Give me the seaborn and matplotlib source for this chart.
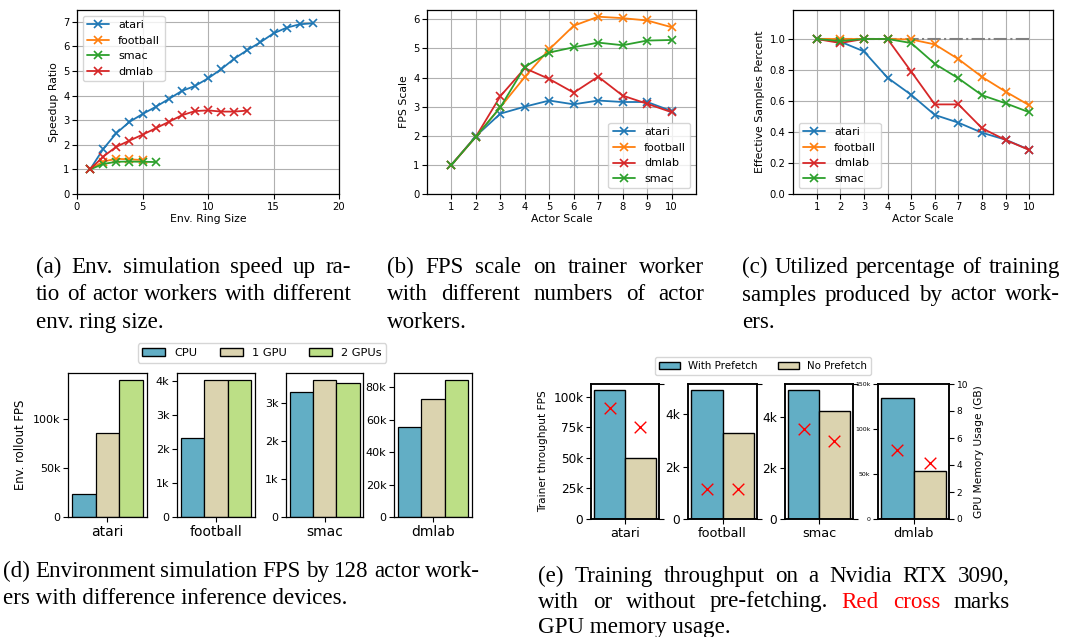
import matplotlib

matplotlib.use("Agg")
import matplotlib.pyplot as plt
import pandas as pd
import seaborn as sns
from matplotlib.patches import Patch
from matplotlib.ticker import FuncFormatter, MultipleLocator
from matplotlib.transforms import IdentityTransform

W, H = 1065, 637

# (a) speedup vs env ring size
ring_atari = [1, 2, 3, 4, 5, 6, 7, 8, 9, 10, 11, 12, 13, 14, 15, 16, 17, 18]
speedup_atari = [1.0, 1.83, 2.47, 2.93, 3.25, 3.54, 3.86, 4.19, 4.39, 4.70,
                 5.07, 5.50, 5.85, 6.17, 6.53, 6.76, 6.90, 6.94]
ring_football = [1, 2, 3, 4, 5]
speedup_football = [1.0, 1.32, 1.43, 1.41, 1.38]
ring_smac = [1, 2, 3, 4, 5, 6]
speedup_smac = [1.0, 1.22, 1.31, 1.32, 1.31, 1.30]
ring_dmlab = [1, 2, 3, 4, 5, 6, 7, 8, 9, 10, 11, 12, 13]
speedup_dmlab = [1.0, 1.52, 1.92, 2.17, 2.41, 2.67, 2.93, 3.20, 3.37, 3.40,
                 3.35, 3.35, 3.39]

# (b) fps scale / (c) effective samples vs actor scale
actor_scale = [1, 2, 3, 4, 5, 6, 7, 8, 9, 10]
fps_atari = [1.0, 1.99, 2.76, 3.00, 3.21, 3.08, 3.21, 3.16, 3.16, 2.85]
fps_football = [1.0, 1.97, 2.98, 4.02, 4.97, 5.78, 6.09, 6.04, 5.96, 5.73]
fps_dmlab = [1.0, 1.97, 3.36, 4.32, 3.95, 3.48, 4.03, 3.38, 3.10, 2.81]
fps_smac = [1.0, 1.97, 2.98, 4.37, 4.86, 5.04, 5.20, 5.11, 5.27, 5.29]

eff_atari = [1.0, 0.983, 0.92, 0.75, 0.64, 0.51, 0.46, 0.395, 0.35, 0.285]
eff_football = [1.0, 1.0, 1.0, 1.0, 0.997, 0.965, 0.87, 0.755, 0.66, 0.572]
eff_dmlab = [1.0, 0.974, 1.0, 1.0, 0.79, 0.578, 0.578, 0.424, 0.348, 0.284]
eff_smac = [1.0, 0.987, 1.0, 1.0, 0.974, 0.84, 0.746, 0.637, 0.585, 0.527]
eff_ideal = [1.0, 1.0, 1.0, 1.0, 1.0, 1.0, 1.0, 1.0, 1.0, 1.0]

# (d) env simulation fps by inference device
envs = ["atari", "football", "smac", "dmlab"]
devices = ["CPU", "1 GPU", "2 GPUs"]
sim_cpu = [23800, 2340, 3270, 55700]
sim_1gpu = [85000, 4040, 3600, 72400]
sim_2gpu = [139500, 4040, 3530, 84500]

# (e) trainer throughput with / without prefetch, GPU memory (GB)
modes = ["With Prefetch", "No Prefetch"]
thr_with = [105000, 4910, 5060, 134000]
thr_no = [50000, 3280, 4240, 53000]
mem_with = [8.2, 2.2, 6.7, 5.1]
mem_no = [6.85, 2.2, 5.75, 4.15]

env_colors = {"atari": "#1f77b4", "football": "#ff7f0e", "smac": "#2ca02c", "dmlab": "#d62728"}
bar_colors = ["#62aec5", "#dbd3af", "#bcdf86"]

sns.set_style("ticks", {"axes.edgecolor": "black", "xtick.color": "black",
                        "ytick.color": "black", "axes.labelcolor": "black",
                        "text.color": "black"})
plt.rcParams["font.family"] = ["DejaVu Sans"]

fig = plt.figure(figsize=(W / 100, H / 100), dpi=100)


def add_axes(left, top, right, bottom):
    return fig.add_axes([left / W, 1 - bottom / H, (right - left) / W, (bottom - top) / H])


def kfmt(v, _):
    return "0" if v == 0 else f"{v / 1000:g}k"


def line_panel(ax, series, xlabel, ylabel):
    for name, xs, ys in series:
        sns.lineplot(x=xs, y=ys, ax=ax, color=env_colors[name], marker="x",
                     markersize=6, markeredgecolor=env_colors[name],
                     markeredgewidth=1.2, linewidth=1.3, label=name, legend=False)
    ax.grid(True, color="#b0b0b0", linewidth=0.8)
    ax.set_xlabel(xlabel, fontsize=7.8, labelpad=2)
    ax.set_ylabel(ylabel, fontsize=7.8, labelpad=3)
    ax.tick_params(labelsize=7.2, width=0.8, length=3.5, pad=2)
    for s in ax.spines.values():
        s.set_linewidth(0.9)


# (a)
ax = add_axes(77, 10, 339, 194)
line_panel(ax, [("atari", ring_atari, speedup_atari),
                ("football", ring_football, speedup_football),
                ("smac", ring_smac, speedup_smac),
                ("dmlab", ring_dmlab, speedup_dmlab)],
           "Env. Ring Size", "Speedup Ratio")
ax.set_xlim(0, 20)
ax.set_ylim(0, 7.48)
ax.xaxis.set_major_locator(MultipleLocator(5))
ax.legend(loc="upper left", fontsize=8)

# (b)
ax = add_axes(427, 10, 696, 194)
line_panel(ax, [("atari", actor_scale, fps_atari),
                ("football", actor_scale, fps_football),
                ("dmlab", actor_scale, fps_dmlab),
                ("smac", actor_scale, fps_smac)],
           "Actor Scale", "FPS Scale")
ax.set_xlim(0, 11)
ax.set_ylim(0, 6.32)
ax.set_xticks(actor_scale)
ax.legend(loc="lower right", fontsize=8)

# (c)
ax = add_axes(793, 10, 1053, 194)
sns.lineplot(x=actor_scale, y=eff_ideal, ax=ax, color="gray", linestyle="-.",
             linewidth=1.5, legend=False, zorder=1)
line_panel(ax, [("atari", actor_scale, eff_atari),
                ("football", actor_scale, eff_football),
                ("dmlab", actor_scale, eff_dmlab),
                ("smac", actor_scale, eff_smac)],
           "Actor Scale", "Effective Samples Percent")
ax.set_xlim(0, 11)
ax.set_ylim(0, 1.187)
ax.set_xticks(actor_scale)
ax.yaxis.set_major_locator(MultipleLocator(0.2))
ax.legend(loc="lower left", fontsize=8)

# (d)
sim = pd.DataFrame({
    "env": envs * 3,
    "device": [d for d in devices for _ in envs],
    "fps": sim_cpu + sim_1gpu + sim_2gpu,
})
d_boxes = [(68, 373, 147, 517), (177, 373, 255, 517), (286, 373, 363, 517), (394, 373, 472, 517)]
d_steps = [50000, 1000, 1000, 20000]
for i, env in enumerate(envs):
    ax = add_axes(*d_boxes[i])
    sns.barplot(data=sim[sim["env"] == env], x="env", y="fps", hue="device",
                hue_order=devices, palette=bar_colors, width=1, errorbar=None,
                edgecolor="black", linewidth=0.9, saturation=1, legend=False, ax=ax)
    ax.set_xlim(-0.55, 0.55)
    ax.yaxis.set_major_locator(MultipleLocator(d_steps[i]))
    ax.yaxis.set_major_formatter(FuncFormatter(kfmt))
    ax.tick_params(axis="y", labelsize=8, pad=2)
    ax.tick_params(axis="x", labelsize=10, pad=2)
    ax.set_xlabel("")
    ax.set_ylabel("Env. rollout FPS" if i == 0 else "", fontsize=8.4)
    for s in ax.spines.values():
        s.set_visible(True)
        s.set_linewidth(0.9)
fig.legend(handles=[Patch(facecolor=c, edgecolor="black", label=l)
                    for c, l in zip(bar_colors, devices)],
           loc="center", bbox_to_anchor=(262 / W, 1 - 353 / H), ncol=3, fontsize=8.2)

# (e)
thr = pd.DataFrame({
    "env": envs * 2,
    "mode": [m for m in modes for _ in envs],
    "fps": thr_with + thr_no,
    "mem": mem_with + mem_no,
})
e_boxes = [(591, 384, 659, 519), (688, 384, 757, 519), (785, 384, 853, 519), (878, 384, 949, 519)]
e_steps = [25000, 2000, 2000, 50000]
for i, env in enumerate(envs):
    ax = add_axes(*e_boxes[i])
    sub = thr[thr["env"] == env]
    sns.barplot(data=sub, x="env", y="fps", hue="mode", hue_order=modes,
                palette=bar_colors[:2], width=1, errorbar=None, edgecolor="black",
                linewidth=1.0, saturation=1, legend=False, ax=ax)
    ax.set_xlim(-0.55, 0.55)
    ax.yaxis.set_major_locator(MultipleLocator(e_steps[i]))
    ax.yaxis.set_major_formatter(FuncFormatter(kfmt))
    ax.tick_params(axis="y", labelsize=4.5 if i == 3 else 8.7, pad=2)
    ax.tick_params(axis="x", labelsize=9.3, pad=2)
    ax.set_xlabel("")
    ax.set_ylabel("Trainer throughput FPS" if i == 0 else "", fontsize=7.6)
    if i == 3:
        ax.set_ylim(0, 150000)
    centers = [p.get_x() + p.get_width() / 2 for p in ax.patches[:2]]
    tw = ax.twinx()
    sns.scatterplot(x=centers, y=sub["mem"].tolist(), ax=tw, marker="x", s=70,
                    color="red", linewidth=1.0, legend=False)
    tw.set_ylim(0, 10)
    if i == 3:
        tw.yaxis.set_major_locator(MultipleLocator(2))
        tw.tick_params(axis="y", labelsize=6.5, pad=2)
        tw.set_ylabel("GPU Memory Usage (GB)", fontsize=7.7)
    else:
        tw.set_yticks([0, 10])
        tw.set_yticklabels([])
    for a in (ax, tw):
        for s in a.spines.values():
            s.set_visible(True)
            s.set_linewidth(1.1)
fig.legend(handles=[Patch(facecolor=c, edgecolor="black", label=l)
                    for c, l in zip(bar_colors[:2], modes)],
           loc="center", bbox_to_anchor=(763 / W, 1 - 366 / H), ncol=2, fontsize=7.4)

# captions (justified like the paper)
renderer = fig.canvas.get_renderer()
CAP_SIZE = 16.6


def caption(lines, x0, x1, base, step, red=()):
    for k, line in enumerate(lines):
        y = H - (base + k * step)
        words = line.split()
        if k == len(lines) - 1:
            fig.text(x0, y, line, transform=IdentityTransform(), fontsize=CAP_SIZE,
                     family="Liberation Serif", va="baseline")
            continue
        texts = [fig.text(0, y, w, transform=IdentityTransform(), fontsize=CAP_SIZE,
                          family="Liberation Serif", va="baseline",
                          color="red" if w in red else "black") for w in words]
        widths = [t.get_window_extent(renderer).width for t in texts]
        gap = (x1 - x0 - sum(widths)) / (len(words) - 1)
        x = x0
        for t, w in zip(texts, widths):
            t.set_x(x)
            x += w + gap


caption(["(a) Env.  simulation speed up ra-", "tio of actor workers with different",
         "env. ring size."], 36, 351, 273, 27.5)
caption(["(b) FPS scale on trainer worker", "with different numbers of actor",
         "workers."], 387, 704, 273, 27.5)
caption(["(c) Utilized percentage of training", "samples produced by actor work-",
         "ers."], 742, 1060, 273, 27.5)
caption(["(d) Environment simulation FPS by 128 actor work-",
         "ers with difference inference devices."], 3, 480, 577, 27.5)
caption(["(e) Training throughput on a Nvidia RTX 3090,",
         "with or without pre-fetching.  Red cross marks",
         "GPU memory usage."], 538, 1010, 582, 25.5, red=("Red", "cross"))

fig.savefig("out.png", dpi=100)
plt.close()
